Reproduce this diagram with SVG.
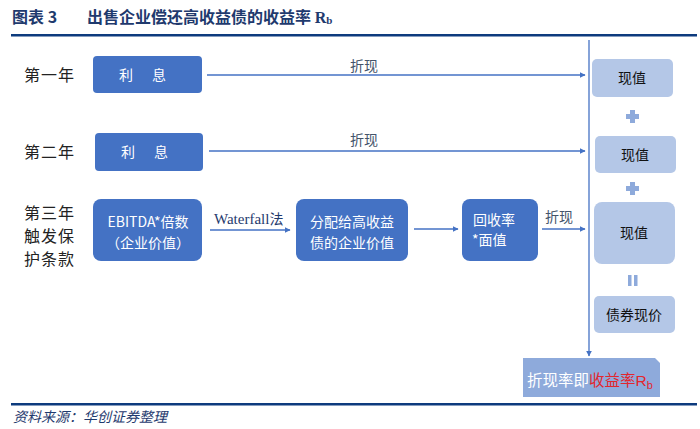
<svg xmlns="http://www.w3.org/2000/svg" width="700" height="429" viewBox="0 0 700 429">
<defs>
<marker id="ah" viewBox="0 0 10 10" refX="9" refY="5" markerWidth="6" markerHeight="6" orient="auto" markerUnits="userSpaceOnUse"><path d="M0,0 L10,5 L0,10 z" fill="#4472c4"/></marker>
<style>
.t{font-family:"Liberation Serif","Noto Sans CJK SC",serif;}
.cj{font-family:"Noto Sans CJK SC",sans-serif;}
.dk{fill:#4472c4;}
.lt{fill:#b4c7e7;}
.wt{fill:#ffffff;font-size:14px;}
.row{fill:#222;font-size:16px;letter-spacing:1px;}
.lbl{fill:#44546a;font-size:14px;}
.con{stroke:#4472c4;stroke-width:1.3;fill:none;}
.bk{fill:#111;font-size:14px;}
</style>
</defs>
<rect width="700" height="429" fill="#fff"/>
<g id="title">
<text x="12" y="23" class="cj" font-size="16" font-weight="bold" fill="#1f3a6e">图表 3<tspan x="87">出售企业偿还高收益债的收益率 </tspan><tspan font-family="Liberation Serif" font-weight="bold">R</tspan><tspan font-family="Liberation Serif" font-size="11" dy="1">b</tspan></text>
<rect x="11" y="34" width="686" height="2.5" fill="#0d3b7e"/>
</g>
<g id="rowlabels" class="cj row">
<text x="24" y="81">第一年</text>
<text x="24" y="158">第二年</text>
<text x="24" y="219">第三年</text>
<text x="24" y="242">触发保</text>
<text x="24" y="265">护条款</text>
</g>
<g id="n1"><rect x="93" y="56" width="109" height="37" rx="4" class="dk"/><text x="126" y="80" class="cj wt" text-anchor="middle">利</text><text x="159" y="80" class="cj wt" text-anchor="middle">息</text></g>
<g id="n2"><rect x="95" y="133" width="108" height="38" rx="4" class="dk"/><text x="128" y="157" class="cj wt" text-anchor="middle">利</text><text x="161" y="157" class="cj wt" text-anchor="middle">息</text></g>
<g id="n3"><rect x="93" y="199" width="109" height="62" rx="8" class="dk"/><text x="148" y="227" class="cj wt" text-anchor="middle">EBITDA*倍数</text><text x="148" y="248" class="cj wt" text-anchor="middle">（企业价值）</text></g>
<g id="n4"><rect x="296" y="199" width="112" height="62" rx="8" class="dk"/><text x="352" y="227" class="cj wt" text-anchor="middle">分配给高收益</text><text x="352" y="248" class="cj wt" text-anchor="middle">债的企业价值</text></g>
<g id="n5"><rect x="462" y="199" width="76" height="62" rx="8" class="dk"/><text x="473" y="225" class="cj wt">回收率</text><text x="472" y="245" class="cj wt">*面值</text></g>
<g id="v1"><rect x="592" y="59" width="81" height="38" rx="5" class="lt"/><text x="632" y="83" class="cj bk" text-anchor="middle">现值</text></g>
<g id="v2"><rect x="595" y="136" width="81" height="37" rx="5" class="lt"/><text x="635" y="160" class="cj bk" text-anchor="middle">现值</text></g>
<g id="v3"><rect x="594" y="202" width="81" height="62" rx="8" class="lt"/><text x="634" y="238" class="cj bk" text-anchor="middle">现值</text></g>
<g id="v4"><rect x="594" y="296" width="81" height="37" rx="5" class="lt"/><text x="634" y="320" class="cj bk" text-anchor="middle">债券现价</text></g>
<g id="ops" fill="#8eaadb">
<rect x="630" y="110" width="5" height="13"/><rect x="626" y="114" width="13" height="5"/>
<rect x="630" y="182" width="5" height="13"/><rect x="626" y="186" width="13" height="5"/>
<rect x="628" y="275" width="3.5" height="11"/><rect x="634" y="275" width="3.5" height="11"/>
</g>
<g id="result"><path d="M523,358 H655 L660,363 V397 H523 Z" fill="#8eaadb"/><text x="527" y="386" class="cj" font-size="15.5" fill="#fff">折现率即<tspan fill="#e3262d">收益率</tspan><tspan fill="#e3262d" font-family="Liberation Sans">R</tspan><tspan fill="#e3262d" font-family="Liberation Sans" font-size="11" dy="3">b</tspan></text></g>
<g id="connectors">
<line x1="207" y1="75" x2="585" y2="75" class="con" marker-end="url(#ah)"/>
<line x1="209" y1="151" x2="585" y2="151" class="con" marker-end="url(#ah)"/>
<line x1="210" y1="230" x2="290" y2="230" class="con" marker-end="url(#ah)"/>
<line x1="414" y1="229" x2="458" y2="229" class="con" marker-end="url(#ah)"/>
<line x1="542" y1="229" x2="585" y2="229" class="con" marker-end="url(#ah)"/>
<line x1="589" y1="40" x2="589" y2="356" class="con" marker-end="url(#ah)"/>
<text x="350" y="71" class="cj lbl">折现</text>
<text x="350" y="145" class="cj lbl">折现</text>
<text x="545" y="222" class="cj lbl">折现</text>
<text x="214" y="224" font-family="Liberation Serif" font-size="15" fill="#1f3a6e">Waterfall<tspan class="cj" font-size="14">法</tspan></text>
</g>
<g id="footer">
<rect x="11" y="403" width="686" height="2.5" fill="#0d3b7e"/>
<text x="13" y="422" class="cj" font-size="14" font-style="italic" fill="#1f3a6e">资料来源：华创证券整理</text>
</g>
</svg>
